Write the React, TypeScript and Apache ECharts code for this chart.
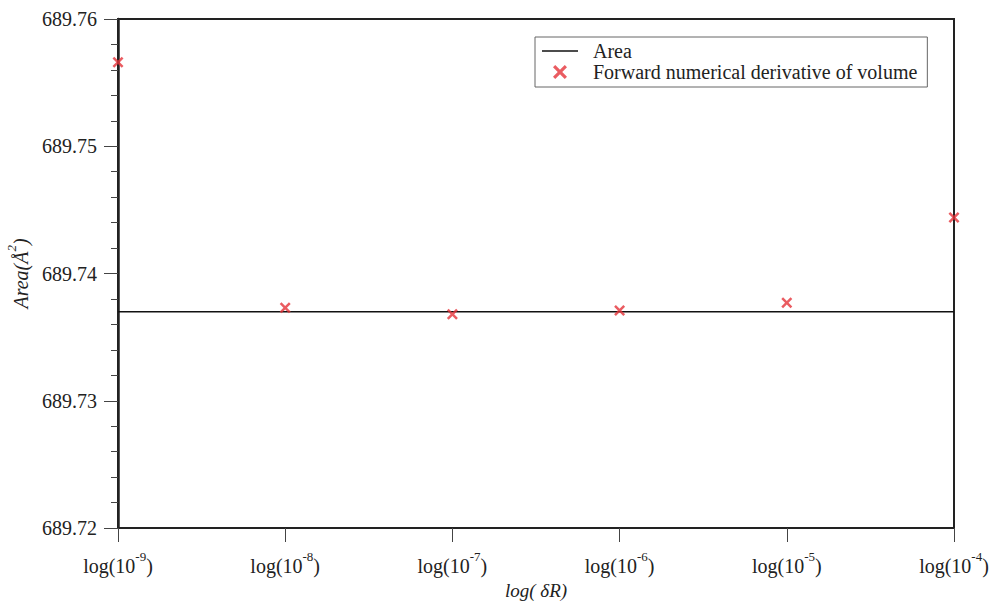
import React, { useEffect, useRef } from "react";
import * as echarts from "echarts";

const xExponents = [-9, -8, -7, -6, -5, -4];
const derivativeValues = [689.7566, 689.7373, 689.7368, 689.7371, 689.7377, 689.7444];
const areaValue = 689.737;
const yTicks = { min: 689.72, max: 689.76, interval: 0.01 };

const FONT = "'Liberation Serif', 'Times New Roman', serif";
const CROSS =
  "path://M0,1.6L1.6,0L5,3.4L8.4,0L10,1.6L6.6,5L10,8.4L8.4,10L5,6.6L1.6,10L0,8.4L3.4,5Z";

export default function App() {
  const ref = useRef<HTMLDivElement>(null);
  useEffect(() => {
    if (!ref.current) return;
    const chart = echarts.init(ref.current, undefined, { renderer: "svg", width: 990, height: 602 });
    const scatterData = xExponents.map((x, i) => [x, derivativeValues[i]]);
    const lineData = [
      [xExponents[0], areaValue],
      [xExponents[xExponents.length - 1], areaValue],
    ];
    chart.setOption({
      animation: false,
      backgroundColor: "#fff",
      textStyle: { fontFamily: FONT, color: "#222" },
      grid: {
        left: 118,
        right: 36,
        top: 19,
        bottom: 74,
        outerBoundsMode: "none",
        containLabel: false,
        show: true,
        borderColor: "#222",
        borderWidth: 2,
        backgroundColor: "transparent",
      },
      legend: {
        orient: "vertical",
        left: 535,
        top: 37,
        padding: [4, 10, 5, 7],
        itemWidth: 36,
        itemHeight: 14,
        itemGap: 1,
        borderColor: "#666",
        borderWidth: 1,
        borderRadius: 0,
        textStyle: { fontFamily: FONT, fontSize: 20, color: "#222", padding: [0, 0, 0, 10] },
        data: [
          { name: "Area", icon: "path://M0,0L36,0L36,1.6L0,1.6Z" },
          { name: "Forward numerical derivative of volume" },
        ],
      },
      xAxis: {
        type: "value",
        min: -9,
        max: -4,
        interval: 1,
        name: "log( δR)",
        nameLocation: "middle",
        nameGap: 52,
        nameTextStyle: { fontFamily: FONT, fontSize: 19, fontStyle: "italic", color: "#222" },
        axisLine: { show: true, lineStyle: { color: "#222", width: 2 } },
        axisTick: { show: true, length: 14, inside: false, lineStyle: { color: "#444", width: 1 } },
        splitLine: { show: false },
        axisLabel: {
          margin: 22,
          formatter: (v: number) => `{a|log(10}{s|${v}}{a|)}`,
          rich: {
            a: { fontFamily: FONT, fontSize: 20, color: "#222", lineHeight: 26, verticalAlign: "bottom" },
            s: { fontFamily: FONT, fontSize: 13, color: "#222", lineHeight: 26, verticalAlign: "top" },
          },
        },
      },
      yAxis: {
        type: "value",
        min: yTicks.min,
        max: yTicks.max,
        interval: yTicks.interval,
        name: "{i|Area(Å}{s|2}{i|)}",
        nameLocation: "middle",
        nameGap: 72,
        nameRotate: 90,
        nameTextStyle: {
          rich: {
            i: { fontFamily: FONT, fontSize: 20, fontStyle: "italic", color: "#222", lineHeight: 26, verticalAlign: "bottom" },
            s: { fontFamily: FONT, fontSize: 13, fontStyle: "italic", color: "#222", lineHeight: 26, verticalAlign: "top" },
          },
        },
        axisLine: { show: true, lineStyle: { color: "#222", width: 2.5 } },
        axisTick: { show: true, length: 14, inside: false, lineStyle: { color: "#444", width: 1 } },
        minorTick: { show: true, splitNumber: 5, length: 7, lineStyle: { color: "#444", width: 1 } },
        splitLine: { show: false },
        axisLabel: {
          margin: 21,
          fontFamily: FONT,
          fontSize: 20,
          color: "#222",
          formatter: (v: number) => v.toFixed(2),
        },
      },
      series: [
        {
          name: "Area",
          type: "line",
          data: lineData,
          symbol: "none",
          lineStyle: { color: "#111", width: 1.6 },
          itemStyle: { color: "#111" },
        },
        {
          name: "Forward numerical derivative of volume",
          type: "scatter",
          data: scatterData,
          symbol: CROSS,
          symbolSize: 11,
          symbolKeepAspect: true,
          clip: false,
          itemStyle: { color: "#e5333a" },
          z: 5,
        },
      ],
    });
    return () => chart.dispose();
  }, []);
  return <div ref={ref} style={{ width: 990, height: 602, position: "absolute", left: 0, top: 0 }} />;
}
